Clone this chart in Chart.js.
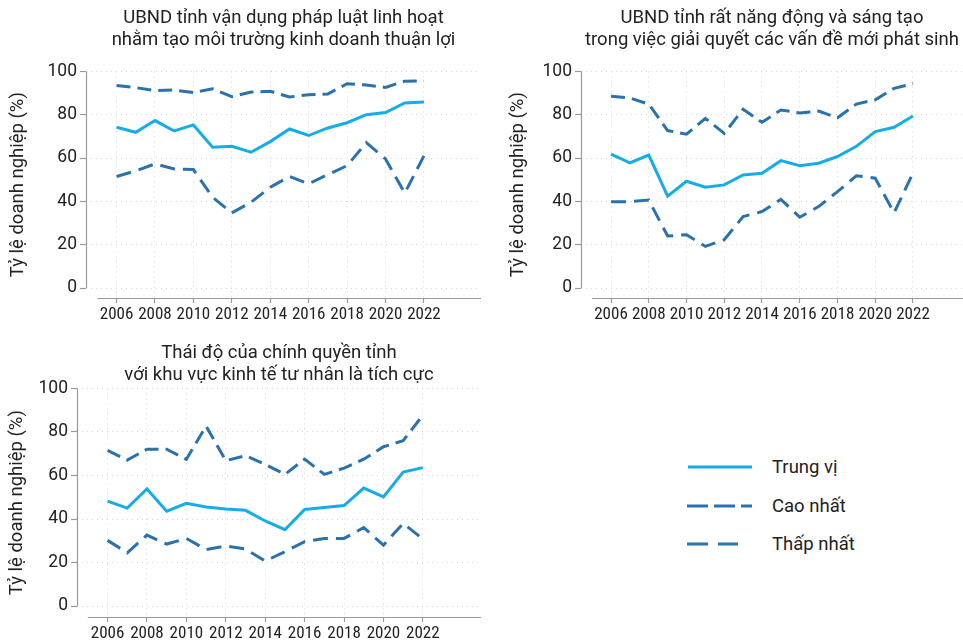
<!DOCTYPE html>
<html>
<head>
<meta charset="utf-8">
<script src="https://cdn.jsdelivr.net/npm/chart.js@4.4.1/dist/chart.umd.min.js"></script>
<style>
  body { margin: 0; width: 963px; height: 641px; overflow: hidden; background: #fff; font-family: Roboto, sans-serif; }
  canvas { position: absolute; }
  #legend { position: absolute; left: 640px; top: 440px; }
</style>
</head>
<body>
<canvas id="chart-law" width="481" height="330" style="left:0;top:0"></canvas>
<canvas id="chart-dyn" width="463" height="330" style="left:500px;top:0"></canvas>
<canvas id="chart-att" width="481" height="311" style="left:0;top:330px"></canvas>
<svg id="legend" width="300" height="130">
  <line x1="48" y1="27" x2="112" y2="27" stroke="#16ace8" stroke-width="3"/>
  <line x1="47" y1="66" x2="112" y2="66" stroke="#2b72ad" stroke-width="3" stroke-dasharray="21 6"/>
  <line x1="47" y1="104" x2="98" y2="104" stroke="#2b72ad" stroke-width="3" stroke-dasharray="21 10"/>
  <text x="132" y="28" font-family="Roboto" font-size="18.5" fill="#222" dominant-baseline="middle">Trung vị</text>
  <text x="132" y="67" font-family="Roboto" font-size="18.5" fill="#222" dominant-baseline="middle">Cao nhất</text>
  <text x="132" y="105" font-family="Roboto" font-size="18.5" fill="#222" dominant-baseline="middle">Thấp nhất</text>
</svg>
<script>
// Years and axis ticks
const years = [2006, 2007, 2008, 2009, 2010, 2011, 2012, 2013, 2014, 2015, 2016, 2017, 2018, 2019, 2020, 2021, 2022];
const xTicks = [2006, 2008, 2010, 2012, 2014, 2016, 2018, 2020, 2022];
const yTicks = [0, 20, 40, 60, 80, 100];

// Panel 1: UBND tỉnh vận dụng pháp luật linh hoạt
const lawMedian = [74.2, 71.9, 77.3, 72.5, 75.3, 65.0, 65.4, 62.7, 67.6, 73.4, 70.4, 73.9, 76.3, 80.0, 81.0, 85.4, 85.9];
const lawHigh   = [93.5, 92.5, 91.2, 91.4, 90.2, 92.0, 88.3, 90.5, 90.8, 88.2, 89.2, 89.6, 94.3, 93.7, 92.6, 95.5, 95.7];
const lawLow    = [51.5, 54.1, 57.3, 55.0, 54.7, 41.9, 34.7, 39.6, 46.5, 51.5, 48.1, 52.4, 56.5, 67.1, 59.6, 43.8, 61.0];

// Panel 2: UBND tỉnh năng động, sáng tạo
const dynMedian = [61.8, 57.8, 61.4, 42.4, 49.3, 46.5, 47.6, 52.2, 53.0, 58.8, 56.5, 57.6, 60.7, 65.4, 72.2, 74.2, 79.4];
const dynHigh   = [88.5, 87.7, 84.9, 72.7, 71.0, 78.3, 71.4, 82.5, 76.5, 82.2, 80.8, 81.7, 78.6, 84.9, 86.9, 92.2, 94.3];
const dynLow    = [39.8, 39.9, 40.6, 24.0, 24.6, 19.2, 22.3, 33.0, 35.3, 40.9, 32.7, 37.6, 44.5, 51.8, 50.7, 34.7, 53.1];

// Panel 3: Thái độ của chính quyền tỉnh
const attMedian = [48.2, 45.0, 53.8, 43.6, 47.2, 45.5, 44.6, 44.0, 39.1, 35.1, 44.4, 45.3, 46.2, 54.2, 50.2, 61.6, 63.6];
const attHigh   = [71.5, 67.1, 72.1, 72.1, 67.4, 82.7, 66.8, 69.1, 65.1, 60.5, 67.5, 60.5, 63.4, 67.5, 73.2, 76.0, 87.7];
const attLow    = [30.2, 24.5, 32.6, 28.5, 31.1, 26.0, 27.6, 26.2, 20.7, 25.0, 29.6, 31.1, 31.1, 36.1, 28.0, 38.0, 30.8];

const colors = { median: '#16ace8', range: '#2b72ad', text: '#222', axis: '#999', grid: '#d4d4d4' };
const narrow = "'Liberation Sans Narrow', 'Roboto Condensed', Roboto, sans-serif";

// offset spines: y only from 0 to 100, x starting at 2005
const spines = {
  id: 'spines',
  afterDraw(chart) {
    const { ctx, chartArea, scales } = chart;
    ctx.save();
    ctx.strokeStyle = colors.axis;
    ctx.lineWidth = 1.2;
    ctx.beginPath();
    const sx = Math.round(chartArea.left) + 0.5;
    ctx.moveTo(sx, scales.y.getPixelForValue(100));
    ctx.lineTo(sx, scales.y.getPixelForValue(0));
    const by = Math.round(chartArea.bottom) + 0.5;
    ctx.moveTo(scales.x.getPixelForValue(2005), by);
    ctx.lineTo(chartArea.right, by);
    ctx.stroke();
    ctx.restore();
  }
};

function series(values) {
  return years.map((yr, i) => ({ x: yr, y: values[i] }));
}

function makeChart(id, title, median, high, low, cfg) {
  return new Chart(document.getElementById(id), {
    type: 'line',
    data: {
      datasets: [
        { label: 'Cao nhất', data: series(high), borderColor: colors.range, borderWidth: 3, borderDash: [14, 7], pointRadius: 0, tension: 0 },
        { label: 'Thấp nhất', data: series(low), borderColor: colors.range, borderWidth: 3, borderDash: [15, 8], pointRadius: 0, tension: 0 },
        { label: 'Trung vị', data: series(median), borderColor: colors.median, borderWidth: 3, pointRadius: 0, tension: 0 }
      ]
    },
    plugins: [spines],
    options: {
      responsive: false,
      animation: false,
      layout: { padding: 0 },
      plugins: {
        legend: { display: false },
        tooltip: { enabled: false },
        title: {
          display: true,
          text: title,
          fullSize: false,
          color: colors.text,
          font: { family: 'Roboto', size: 18.5, weight: 'normal', lineHeight: 1.2 },
          padding: cfg.titlePad
        }
      },
      scales: {
        x: {
          type: 'linear',
          min: cfg.xMin,
          max: cfg.xMax,
          afterBuildTicks: s => { s.ticks = xTicks.map(v => ({ value: v })); },
          afterFit: s => { s.height = cfg.xHeight; },
          grid: { color: colors.grid, lineWidth: 1, tickColor: colors.axis, tickLength: 5, tickWidth: 1.2 },
          border: { display: false, dash: [1, 4] },
          ticks: { color: colors.text, padding: 2, maxRotation: 0, autoSkip: false, font: { family: narrow, size: 17 }, callback: v => String(v) }
        },
        y: {
          min: cfg.yMin,
          max: 100,
          afterBuildTicks: s => { s.ticks = yTicks.map(v => ({ value: v })); },
          afterFit: s => { s.width = cfg.yWidth; },
          grid: { color: colors.grid, lineWidth: 1, tickColor: colors.axis, tickLength: 6, tickWidth: 1.2 },
          border: { display: false, dash: [1, 4] },
          ticks: { color: colors.text, padding: 3, font: { family: 'Roboto', size: 17.5 } },
          title: {
            display: true,
            text: 'Tỷ lệ doanh nghiệp (%)',
            color: colors.text,
            font: { family: 'Roboto', size: 18.5 },
            padding: { top: cfg.yTitlePad, bottom: 0 }
          }
        }
      }
    }
  });
}

makeChart('chart-law',
  ['UBND tỉnh vận dụng pháp luật linh hoạt', 'nhằm tạo môi trường kinh doanh thuận lợi'],
  lawMedian, lawHigh, lawLow,
  { xMin: 2004.41, xMax: 2024.97, yMin: -4.6, yWidth: 86, xHeight: 32, yTitlePad: 7, titlePad: { top: 7, bottom: 20 } });

makeChart('chart-dyn',
  ['UBND tỉnh rất năng động và sáng tạo', 'trong việc giải quyết các vấn đề mới phát sinh'],
  dynMedian, dynHigh, dynLow,
  { xMin: 2004.41, xMax: 2024.65, yMin: -4.6, yWidth: 81, xHeight: 32, yTitlePad: 7, titlePad: { top: 7, bottom: 20 } });

makeChart('chart-att',
  ['Thái độ của chính quyền tỉnh', 'với khu vực kinh tế tư nhân là tích cực'],
  attMedian, attHigh, attLow,
  { xMin: 2004.45, xMax: 2024.95, yMin: -5.0, yWidth: 77, xHeight: 24, yTitlePad: 6, titlePad: { top: 12, bottom: 2 } });
</script>
</body>
</html>
